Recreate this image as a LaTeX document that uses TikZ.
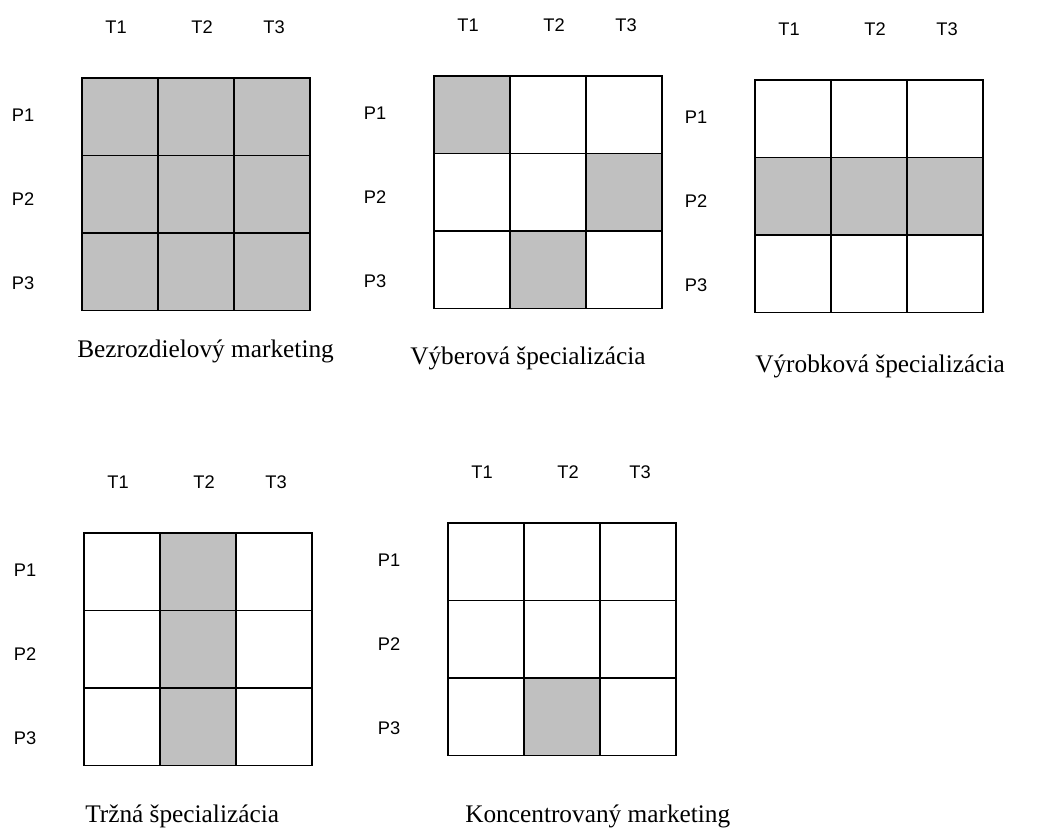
\documentclass[tikz,border=0pt]{standalone}
\usepackage{fontspec}
\setmainfont{Liberation Serif}
\newfontfamily\lblfont{Liberation Sans}
\usepackage{xcolor}
\usetikzlibrary{positioning}
\definecolor{cellgray}{HTML}{C0C0C0}

\begin{document}
\begin{tikzpicture}[x=0.025cm,y=-0.025cm,
  cell/.style={draw=black,line width=1.2pt,minimum width=1.9cm,minimum height=1.9375cm,inner sep=0pt,outer sep=0pt},
  shadedcell/.style={cell,fill=cellgray},
  axislbl/.style={font=\lblfont\fontsize{13}{15}\selectfont,inner sep=0pt},
  captionlbl/.style={font=\fontsize{18}{21}\selectfont,inner sep=0pt,anchor=base west}
]
  \useasboundingbox (0,0) rectangle (1053,829);
  % grids: name / left / top / caption x / caption base / caption / shaded cells (row/col)
  \foreach \g/\ox/\oy/\cx/\cy/\txt/\cells in {%
    a/82/78/77/357/{Bezrozdielový marketing}/{1/1,1/2,1/3,2/1,2/2,2/3,3/1,3/2,3/3},
    b/434/76/410/364/{Výberová špecializácia}/{1/1,2/3,3/2},
    c/755/80/755/372/{Výrobková špecializácia}/{2/1,2/2,2/3},
    d/84/533/85/822/{Tržná špecializácia}/{1/2,2/2,3/2},
    e/448/523/465/822/{Koncentrovaný marketing}/{3/2}%
  }{
    \foreach \r in {1,2,3}{
      \foreach \c in {1,2,3}{
        \node[cell] (\g-\r\c) at ({\ox+(\c-0.5)*76},{\oy+(\r-0.5)*77.5}) {};
      }
    }
    \foreach \r/\c in \cells{
      \node[shadedcell] (\g-s\r\c) at (\g-\r\c) {};
    }
    \foreach \c/\t in {1/34,2/120,3/192}{
      \node[axislbl] (\g-t\c) at ({\ox+\t},{\oy-51}) {T\c};
    }
    \foreach \r/\p in {1/37.5,2/121,3/205.5}{
      \node[axislbl] (\g-p\r) at ({\ox-59},{\oy+\p}) {P\r};
    }
    \node[captionlbl] (\g-cap) at (\cx,\cy) {\txt};
  }
\end{tikzpicture}
\end{document}
